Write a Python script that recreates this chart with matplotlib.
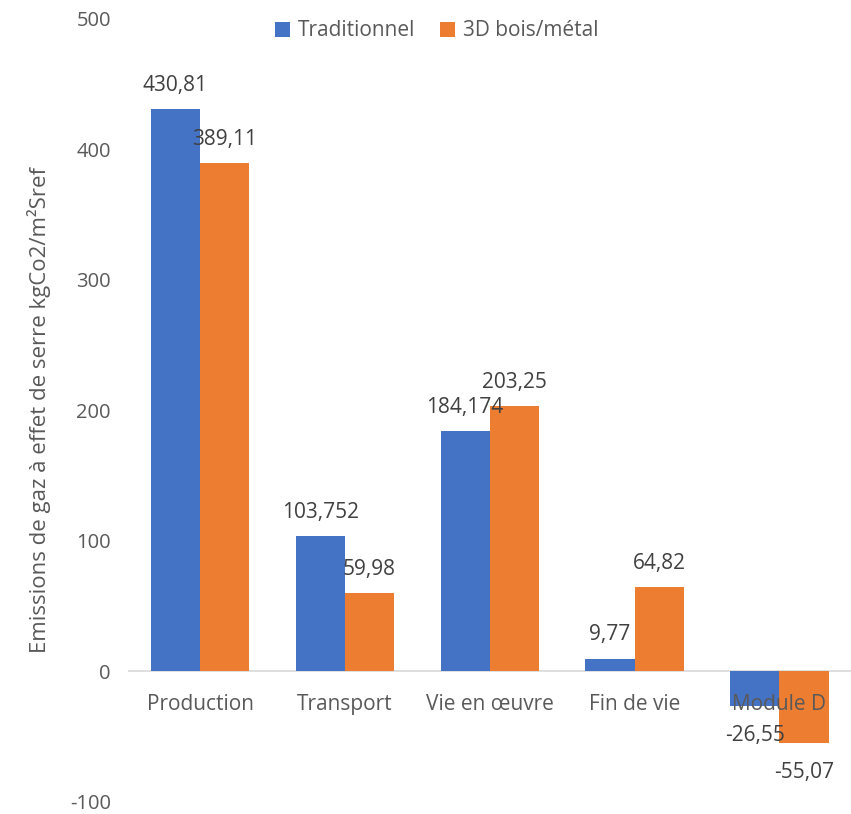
import matplotlib.pyplot as plt
import numpy as np

plt.rcParams['font.family'] = ['Open Sans', 'DejaVu Sans']

categories = ['Production', 'Transport', 'Vie en œuvre', 'Fin de vie', 'Module D']
traditionnel = [430.81, 103.752, 184.174, 9.77, -26.55]
bois_metal = [389.11, 59.98, 203.25, 64.82, -55.07]
series_names = ['Traditionnel', '3D bois/métal']
yticks = [-100, 0, 100, 200, 300, 400, 500]

blue = '#4472C4'
orange = '#ED7D31'
grey_txt = '#595959'
dark_txt = '#404040'

fig = plt.figure(figsize=(8.51, 8.14), dpi=100)
ax = fig.add_axes([0.150, 0.015, 0.851, 0.962])

x = np.arange(len(categories))
w = 0.34
b1 = ax.bar(x - w/2, traditionnel, w, color=blue, label=series_names[0], zorder=2)
b2 = ax.bar(x + w/2, bois_metal, w, color=orange, label=series_names[1], zorder=2)

ax.set_xlim(-0.5, len(categories) - 0.5)
ax.set_ylim(-100, 500)
ax.set_yticks(yticks)
ax.set_yticklabels([str(t) for t in yticks], color=grey_txt, fontsize=14.5)
ax.tick_params(axis='y', length=0, pad=12)
ax.set_xticks([])
for s in ax.spines.values():
    s.set_visible(False)

# category axis line at zero
ax.axhline(0, color='#D9D9D9', lw=1.2, zorder=1)

for i, c in enumerate(categories):
    ax.annotate(c, (i, 0), xytext=(0, -24), textcoords='offset points',
                ha='center', va='center', fontsize=15, color=grey_txt, zorder=3)

def fmt(v):
    return ('%g' % v).replace('.', ',')

for bars, vals in ((b1, traditionnel), (b2, bois_metal)):
    for rect, v in zip(bars, vals):
        xc = rect.get_x() + rect.get_width() / 2
        off = 17 if v >= 0 else -21
        ax.annotate(fmt(v), (xc, v), xytext=(0, off), textcoords='offset points',
                    ha='center', va='center', fontsize=15, color=dark_txt, zorder=4)

ax.set_ylabel('Emissions de gaz à effet de serre kgCo2/m²Sref', fontsize=16,
              color=grey_txt, labelpad=14)

fig.legend(loc='center', bbox_to_anchor=(437 / 851, 1 - 31 / 814), ncol=2,
           frameon=False, fontsize=15, handlelength=0.7, handleheight=0.7,
           handletextpad=0.4, columnspacing=1.2, labelcolor=grey_txt)

fig.savefig('out.png', dpi=100)
